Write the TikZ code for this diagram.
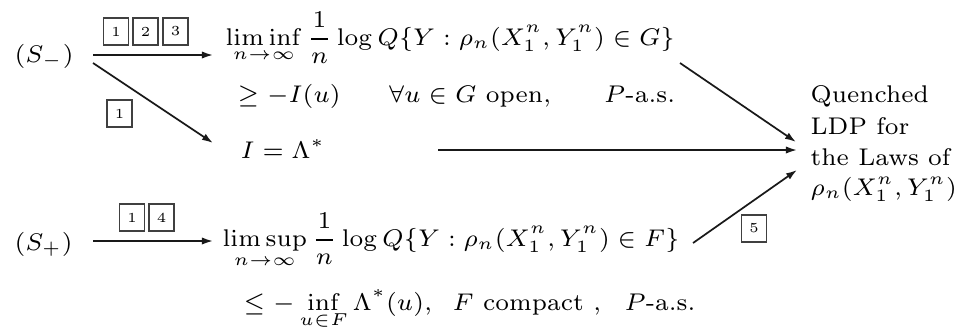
\documentclass[tikz,border=0pt]{standalone}
\usepackage{amsmath}
\usetikzlibrary{arrows.meta}
\begin{document}
\begin{tikzpicture}[x=0.29pt,y=-0.29pt,
  txt/.style={inner sep=0pt, anchor=base west, font=\fontsize{7}{8.5}\selectfont},
  numbox/.style={draw=black!75, line width=0.35pt, minimum width=7.25pt, minimum height=7.85pt, inner sep=0pt, font=\fontsize{4}{4.5}\selectfont},
  arr/.style={-{Latex[length=3.2pt,width=2.1pt]}, line width=0.5pt, black!90}]
\useasboundingbox (0,0) rectangle (961,333);
% left states
\node[txt] (sm) at (14,62) {$(S_-)$};
\node[txt] (sp) at (14,250) {$(S_+)$};
% formulas
\node[txt] (li) at (225,45) {$\displaystyle\liminf_{n\to\infty}\frac{1}{n}\log Q\{Y:\rho_n(X_1^n,Y_1^n)\in G\}$};
\node[txt] (l2) at (237,102) {$\ge -I(u)\qquad \forall u\in G\mbox{ open},\qquad P\mbox{-a.s.}$};
\node[txt] (ie) at (240,158) {$I=\Lambda^*$};
\node[txt] (ls) at (222,246) {$\displaystyle\limsup_{n\to\infty}\frac{1}{n}\log Q\{Y:\rho_n(X_1^n,Y_1^n)\in F\}$};
\node[txt] (l4) at (243,310) {$\displaystyle\le -\inf_{u\in F}\Lambda^*(u),\;\; F\mbox{ compact },\ \ P\mbox{-a.s.}$};
% right column
\node[txt] (q1) at (810,102) {Quenched};
\node[txt] (q2) at (810,134) {LDP for};
\node[txt] (q3) at (810,165) {the Laws of};
\node[txt] (q4) at (810,195) {$\rho_n(X_1^n,Y_1^n)$};
% boxes
\node[numbox] (b1) at (116,31.5) {1};
\node[numbox] (b2) at (145.5,31.5) {2};
\node[numbox] (b3) at (175.5,31.5) {3};
\node[numbox] (b4) at (119.5,113.5) {1};
\node[numbox] (b5) at (132,217.5) {1};
\node[numbox] (b6) at (161.5,217.5) {4};
\node[numbox] (b7) at (754,228.5) {5};
% arrow end points
\coordinate (a1s) at (93,55);  \coordinate (a1e) at (213,55);
\coordinate (a2s) at (93,63);  \coordinate (a2e) at (213,143);
\coordinate (a3s) at (438,150); \coordinate (a3e) at (797,150);
\coordinate (a4s) at (680,63); \coordinate (a4e) at (796,142);
\coordinate (a5s) at (93,241); \coordinate (a5e) at (213,241);
\coordinate (a6s) at (693,243); \coordinate (a6e) at (797,170);
\draw[arr] (a1s) -- (a1e);
\draw[arr] (a2s) -- (a2e);
\draw[arr] (a3s) -- (a3e);
\draw[arr] (a4s) -- (a4e);
\draw[arr] (a5s) -- (a5e);
\draw[arr] (a6s) -- (a6e);
\end{tikzpicture}
\end{document}
